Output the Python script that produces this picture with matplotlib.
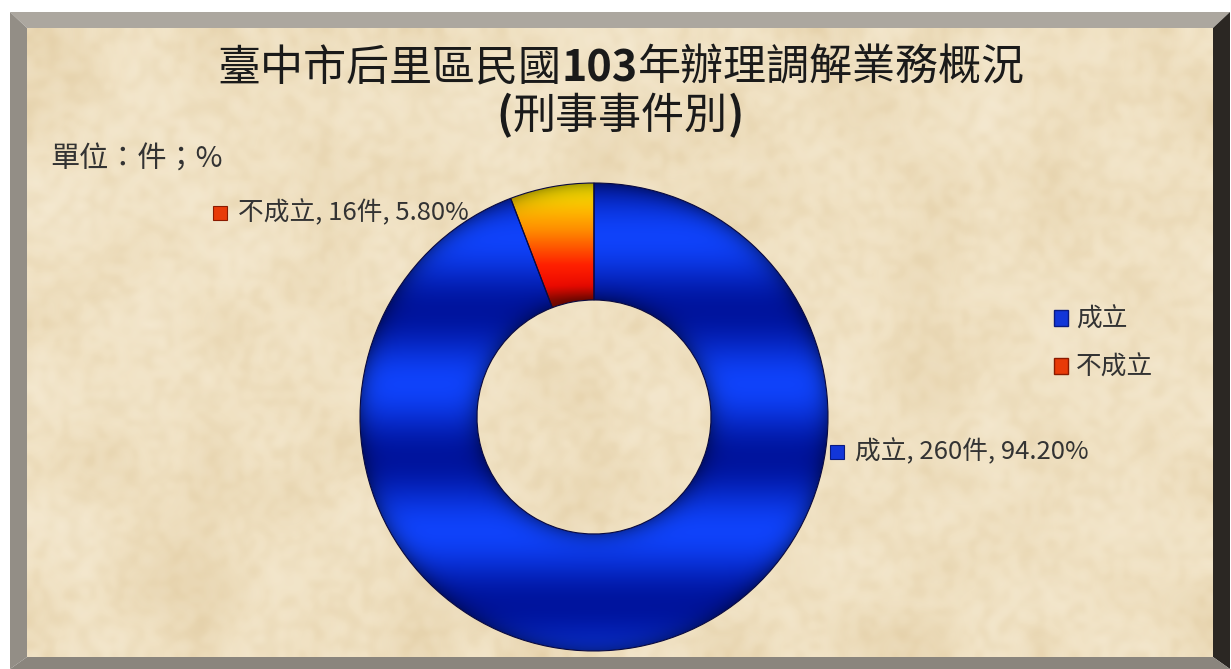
import numpy as np
import matplotlib
matplotlib.use('Agg')
from matplotlib import pyplot as plt
from matplotlib.patches import Polygon, Rectangle, Patch
from matplotlib.colors import LinearSegmentedColormap

plt.rcParams['font.family'] = ['Noto Sans CJK TC', 'DejaVu Sans']

# data
title_a = '臺中市后里區民國'
title_year = '103'
title_b = '年辦理調解業務概況'
subtitle = '刑事事件別'
unit_note = '單位：件；%'
categories = ['成立', '不成立']
counts = [260, 16]
percents = [94.20, 5.80]

W, H = 1231, 669
fig = plt.figure(figsize=(W / 100, H / 100), dpi=100)
fig.patch.set_facecolor('white')

# background axes in pixel coords
bg = fig.add_axes([0, 0, 1, 1])
bg.set_xlim(0, W)
bg.set_ylim(H, 0)
bg.axis('off')

# parchment texture (decoration only)
parch = LinearSegmentedColormap.from_list('parch', ['#dfc89c', '#f0e1c2', '#f8efdc'])
rng = np.random.default_rng(3)
x0, x1, y0, y1 = 27, 1213, 28, 657
bg.imshow(rng.random((16, 30)), cmap=parch, extent=(x0, x1, y1, y0),
          interpolation='bicubic', vmin=-0.2, vmax=1.2, zorder=0)
bg.imshow(rng.random((90, 170)), cmap=parch, extent=(x0, x1, y1, y0),
          interpolation='bicubic', alpha=0.35, zorder=1)

# bevel frame
frame = [
    ([(10, 12), (1230, 12), (1213, 28), (27, 28)], '#aca79f'),
    ([(10, 12), (27, 28), (27, 657), (10, 669)], '#938e86'),
    ([(1230, 12), (1230, 669), (1213, 657), (1213, 28)], '#2b2723'),
    ([(10, 669), (27, 657), (1213, 657), (1230, 669)], '#8a857d'),
]
for pts, c in frame:
    bg.add_patch(Polygon(pts, closed=True, facecolor=c, edgecolor='none', zorder=2))

# title
r = fig.canvas.get_renderer()


def draw_pieces(pieces, cx, base, size):
    objs = [bg.text(0, base, s, fontsize=size, fontweight=w, va='baseline',
                    ha='left', color='#1a1a1a', zorder=5) for s, w in pieces]
    widths = [t.get_window_extent(r).width for t in objs]
    x = cx - sum(widths) / 2
    for t, w in zip(objs, widths):
        t.set_x(x)
        x += w


draw_pieces([(title_a, 'normal'), (title_year, 'bold'), (title_b, 'normal')], 621, 81, 31)
draw_pieces([('(', 'bold'), (subtitle, 'normal'), (')', 'bold')], 620, 129, 31)
bg.text(50, 160, unit_note, fontsize=21, va='center', ha='left', color='#333333', zorder=5)

# donut
cx, cy, rad = 594, 417, 234
ax = fig.add_axes([(cx - rad) / W, (H - cy - rad) / H, 2 * rad / W, 2 * rad / H])
wedges, _ = ax.pie(counts, startangle=90, counterclock=False, radius=1,
                   wedgeprops=dict(width=0.5, facecolor='none', edgecolor='#0a0a40', linewidth=0.8))
ax.set_xlim(-1, 1)
ax.set_ylim(-1, 1)
ax.set_aspect('equal')
ax.axis('off')

n = 700
X, Y = np.meshgrid(np.linspace(-1, 1, n), np.linspace(1, -1, n))
R = np.hypot(X, Y)
s = np.clip((R - 0.75) / 0.25, -1, 1)
shade = 1 - 0.35 * np.abs(s) ** 6

band = 0.5 + 0.5 * np.cos(2 * np.pi * (Y - 0.77) / 0.63)
light = np.array([0.06, 0.26, 0.98])
dark = np.array([0.0, 0.08, 0.62])
blue = (dark + (light - dark) * band[..., None]) * shade[..., None]
im = ax.imshow(np.clip(blue, 0, 1), extent=(-1, 1, -1, 1), origin='upper', zorder=1)
im.set_clip_path(wedges[0])

fire = LinearSegmentedColormap.from_list('fire', [(0, '#9a0a00'), (0.12, '#f00a00'), (0.3, '#ff2000'),
                                                  (0.6, '#ff8c00'), (0.85, '#ffd000'), (1, '#fff000')])
t = np.clip((Y - 0.5) / 0.5, 0, 1)
warm = fire(t)[..., :3] * shade[..., None]
im2 = ax.imshow(np.clip(warm, 0, 1), extent=(-1, 1, -1, 1), origin='upper', zorder=1)
im2.set_clip_path(wedges[1])
for w in wedges:
    w.set_zorder(3)

# data labels
handle_cols = [('#1236d8', '#0a1a80'), ('#e83a08', '#8a1a00')]
label_pos = [(830, 452), (213, 213)]
for cat, n_, p, (lx, ly), (fc, ec) in zip(categories, counts, percents, label_pos, handle_cols):
    bg.add_patch(Rectangle((lx, ly - 7), 14, 14, facecolor=fc, edgecolor=ec, lw=0.8, zorder=5))
    bg.text(lx + 25, ly, f'{cat}, {n_}件, {p:.2f}%', fontsize=18.5, va='center', ha='left',
            color='#333333', zorder=5)

# legend
handles = [Patch(facecolor=fc, edgecolor=ec) for fc, ec in handle_cols]
fig.legend(handles, categories, loc='upper left', bbox_to_anchor=(1031 / W, 1 - 284 / H),
           frameon=False, fontsize=18.5, handlelength=0.55, handleheight=0.55,
           handletextpad=0.3, labelspacing=0.85, labelcolor='#333333')

fig.savefig('out.png', dpi=100)
